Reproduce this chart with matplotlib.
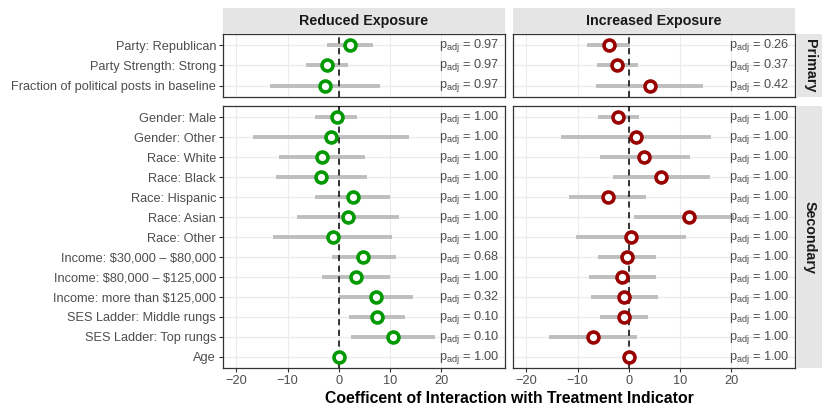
import numpy as np
import matplotlib
matplotlib.use("Agg")
import matplotlib.pyplot as plt

plt.rcParams['font.family'] = ['Liberation Sans', 'DejaVu Sans']
plt.rcParams['mathtext.fontset'] = 'custom'
plt.rcParams['mathtext.rm'] = 'Liberation Sans'
plt.rcParams['mathtext.it'] = 'Liberation Sans:italic'
plt.rcParams['axes.unicode_minus'] = True

# ---- data ----
primary_labels = ["Party: Republican", "Party Strength: Strong",
                  "Fraction of political posts in baseline"]
secondary_labels = ["Gender: Male", "Gender: Other", "Race: White", "Race: Black",
                    "Race: Hispanic", "Race: Asian", "Race: Other",
                    r"Income: \$30,000 \u2013 \$80,000", r"Income: \$80,000 \u2013 \$125,000",
                    r"Income: more than \$125,000", "SES Ladder: Middle rungs",
                    "SES Ladder: Top rungs", "Age"]
secondary_labels = [s.replace(r"\u2013", "\u2013") for s in secondary_labels]

# reduced exposure
red_pri_est = [2.1, -2.4, -2.7]
red_pri_lo = [-2.3, -6.4, -13.5]
red_pri_hi = [6.6, 1.7, 8.1]
red_pri_p = [0.97, 0.97, 0.97]

red_sec_est = [-0.45, -1.5, -3.3, -3.4, 2.7, 1.8, -1.2, 4.8, 3.3, 7.2, 7.4, 10.5, 0.0]
red_sec_lo = [-4.6, -16.8, -11.7, -12.3, -4.6, -8.1, -12.8, -1.4, -3.3, 0.05, 2.0, 2.4, -0.3]
red_sec_hi = [3.6, 13.7, 5.0, 5.5, 10.0, 11.8, 10.4, 11.1, 10.0, 14.4, 12.8, 18.7, 0.3]
red_sec_p = [1.00, 1.00, 1.00, 1.00, 1.00, 1.00, 1.00, 0.68, 1.00, 0.32, 0.10, 0.10, 1.00]

# increased exposure
inc_pri_est = [-3.85, -2.3, 4.1]
inc_pri_lo = [-8.1, -6.2, -6.4]
inc_pri_hi = [0.25, 1.7, 14.5]
inc_pri_p = [0.26, 0.37, 0.42]

inc_sec_est = [-2.1, 1.4, 3.0, 6.3, -4.1, 11.7, 0.45, -0.45, -1.3, -0.9, -1.0, -7.0, 0.1]
inc_sec_lo = [-6.1, -13.2, -5.6, -3.1, -11.6, 1.0, -10.3, -6.0, -7.8, -7.4, -5.7, -15.5, -0.2]
inc_sec_hi = [1.9, 16.0, 12.0, 15.8, 3.4, 20.5, 11.2, 5.2, 5.2, 5.7, 3.8, 1.5, 0.4]
inc_sec_p = [1.00] * 13

col_titles = ["Reduced Exposure", "Increased Exposure"]
row_titles = ["Primary", "Secondary"]
xticks = [-20, -10, 0, 10, 20]

W, H = 830, 415
fig = plt.figure(figsize=(W / 100, H / 100), dpi=100)


def px_axes(x0, y0, x1, y1):
    return fig.add_axes([x0 / W, 1 - y1 / H, (x1 - x0) / W, (y1 - y0) / H])


green = "#009900"
darkred = "#990000"
txt_gray = "#4d4d4d"
lab_size = 9.2

cols_x = [(223, 505), (513, 795)]
rows_y = [(34, 97), (106, 368)]

panels = [
    [(red_pri_est, red_pri_lo, red_pri_hi, red_pri_p, primary_labels),
     (red_sec_est, red_sec_lo, red_sec_hi, red_sec_p, secondary_labels)],
    [(inc_pri_est, inc_pri_lo, inc_pri_hi, inc_pri_p, primary_labels),
     (inc_sec_est, inc_sec_lo, inc_sec_hi, inc_sec_p, secondary_labels)],
]
colors = [green, darkred]

for ci, (x0, x1) in enumerate(cols_x):
    for ri, (y0, y1) in enumerate(rows_y):
        est, lo, hi, pv, labels = panels[ci][ri]
        ax = px_axes(x0, y0, x1, y1)
        n = len(labels)
        ypos = np.arange(n)[::-1]
        ax.set_xlim(-22.6, 32.4)
        ax.set_ylim(-0.55, n - 1 + 0.55)
        ax.set_xticks(xticks)
        ax.set_yticks(ypos)
        for v in xticks:
            ax.axvline(v, color="#ebebeb", lw=0.8, zorder=0)
        for y in ypos:
            ax.axhline(y, color="#ebebeb", lw=1.0, zorder=0)
        ax.hlines(ypos, lo, hi, color="#bebebe", lw=2.8, zorder=2)
        ax.axvline(0, color="black", lw=1.1, ls=(0, (4, 3)), zorder=3)
        ax.scatter(est, ypos, s=62, facecolor="white", edgecolor=colors[ci],
                   linewidths=2.6, zorder=4)
        for y, p in zip(ypos, pv):
            ax.text(0.98, y, r"$\mathrm{p}_{\mathrm{adj}}$" + f" = {p:.2f}",
                    transform=ax.get_yaxis_transform(), ha="right", va="center",
                    fontsize=lab_size, color=txt_gray, zorder=5)
        ax.tick_params(axis="both", labelsize=lab_size, labelcolor=txt_gray,
                       color="#333333", length=3, width=0.8, pad=2)
        if ci == 0:
            ax.set_yticklabels(labels)
        else:
            ax.set_yticklabels([])
            ax.tick_params(axis="y", length=0)
        if ri == 0:
            ax.set_xticklabels([])
            ax.tick_params(axis="x", length=0)
        else:
            ax.set_xticklabels([f"{v}".replace("-", "\u2212") for v in xticks])
        for s in ax.spines.values():
            s.set_color("#333333")
            s.set_linewidth(0.9)

        # column strip
        if ri == 0:
            sax = px_axes(x0, 8, x1, 33)
            sax.set_facecolor("#e5e5e5")
            sax.set_xticks([])
            sax.set_yticks([])
            for s in sax.spines.values():
                s.set_visible(False)
            sax.text(0.5, 0.5, col_titles[ci], ha="center", va="center",
                     fontsize=10.3, fontweight="bold", color="#1a1a1a",
                     transform=sax.transAxes)
        # row strip
        if ci == 1:
            rax = px_axes(797, y0, 822, y1)
            rax.set_facecolor("#e5e5e5")
            rax.set_xticks([])
            rax.set_yticks([])
            for s in rax.spines.values():
                s.set_visible(False)
            rax.text(0.5, 0.5, row_titles[ri], ha="center", va="center",
                     rotation=-90, fontsize=10.3, fontweight="bold", color="#1a1a1a",
                     transform=rax.transAxes)

fig.text(509 / W, 1 - 398 / H, "Coefficent of Interaction with Treatment Indicator",
         ha="center", va="center", fontsize=11.3, fontweight="bold", color="black")

fig.savefig("out.png", dpi=100)
